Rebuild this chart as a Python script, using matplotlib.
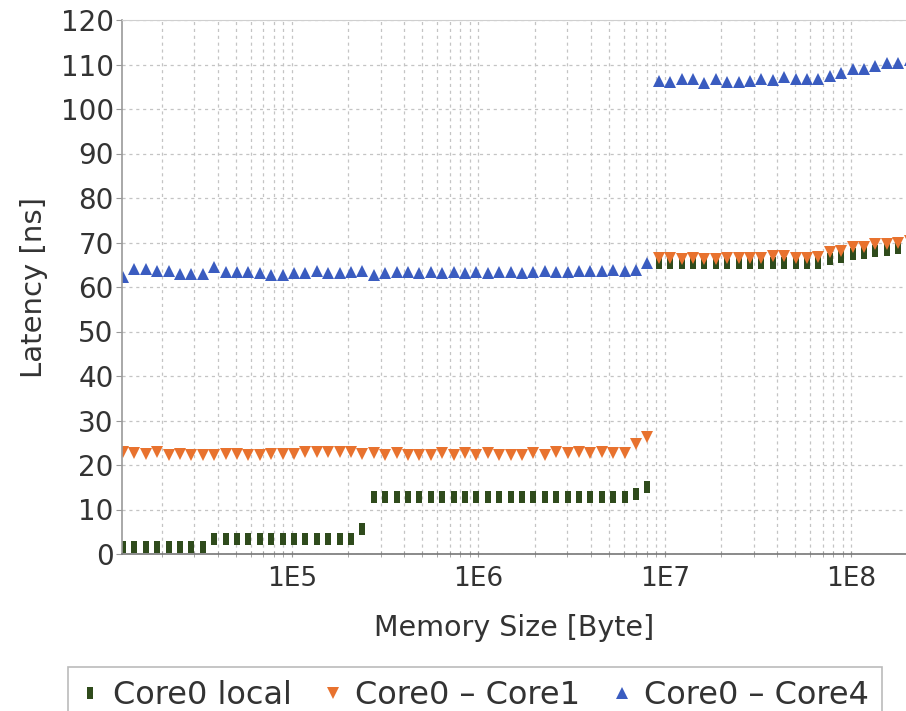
# coding=utf-8

import matplotlib.pyplot as plt
from matplotlib.ticker import LogLocator, FuncFormatter, MultipleLocator, NullFormatter
import numpy as np

plt.rcParams['font.family'] = ['DejaVu Sans']
plt.rcParams['axes.unicode_minus'] = False

# memory block size (byte)
size = [12413, 14288, 16449, 18933, 21796, 25089, 28883, 33246, 38268, 44055,
        50716, 58383, 67206, 77363, 89056, 102518, 118003, 135831, 156351, 180011,
        207204, 238506, 274594, 316082, 363827, 418869, 482169, 555009, 638849, 735517,
        846644, 974548, 1122018, 1291500, 1486600, 1711500, 1970000, 2267600, 2610000, 3005000,
        3459000, 3981000, 4583000, 5276000, 6072000, 6991000, 8048000, 9267000, 10668000, 12282000,
        14137000, 16273000, 18735000, 21564000, 24821000, 28576000, 32896000, 37865000, 43592000, 50177000,
        57757000, 66484000, 76543000, 88105000, 101414000, 116762000, 134399000, 154700000, 178111000, 205017000]

# latency (ns)
core0_local = [1.5, 1.5, 1.5, 1.5, 1.5, 1.5, 1.5, 1.5,
               3.4, 3.4, 3.4, 3.4, 3.4, 3.4, 3.4, 3.4, 3.4, 3.4, 3.4, 3.4, 3.4,
               5.7,
               12.7, 12.7, 12.7, 12.7, 12.7, 12.7, 12.7, 12.7, 12.7, 12.7, 12.7, 12.7,
               12.7, 12.7, 12.7, 12.7, 12.7, 12.7, 12.7, 12.7, 12.7, 12.7, 12.7,
               13.5, 15.0,
               65.3, 65.3, 65.3, 65.3, 65.3, 65.3, 65.3, 65.3, 65.3, 65.3, 65.3, 65.3, 65.3, 65.3, 65.3,
               66.2, 66.8, 67.5, 67.6, 68.2, 68.4, 68.8, 69.0]
core0_core1 = [23.0, 22.7, 22.5, 23.0, 22.2, 22.4, 22.3, 22.3, 22.2, 22.5,
               22.5, 22.3, 22.3, 22.5, 22.5, 22.5, 23.0, 23.0, 23.0, 23.0,
               23.0, 22.5, 22.6, 22.2, 22.6, 22.2, 22.3, 22.3, 22.6, 22.3,
               22.6, 22.3, 22.6, 22.3, 22.2, 22.3, 22.6, 22.2, 23.0, 22.7,
               23.0, 22.7, 23.0, 22.7, 22.7, 24.7, 26.2,
               66.6, 66.6, 66.4, 66.6, 66.3, 66.4, 66.6, 66.6, 66.6, 66.6,
               67.0, 67.0, 66.6, 66.6, 66.8, 67.8, 68.2, 69.0, 69.0, 69.6,
               69.6, 70.0, 70.3]
core0_core4 = [62.3, 64.0, 64.0, 63.6, 63.6, 62.9, 62.9, 62.9, 64.4, 63.3,
               63.3, 63.3, 63.1, 62.6, 62.6, 63.1, 63.1, 63.6, 63.1, 63.1,
               63.3, 63.6, 62.7, 63.1, 63.3, 63.3, 63.1, 63.3, 63.1, 63.3,
               63.1, 63.3, 63.1, 63.3, 63.3, 63.1, 63.3, 63.6, 63.3, 63.3,
               63.6, 63.6, 63.6, 63.8, 63.6, 63.8, 65.5,
               106.3, 106.0, 106.7, 106.7, 105.8, 106.7, 106.0, 106.0, 106.3, 106.7,
               106.5, 107.1, 106.7, 106.7, 106.7, 107.5, 108.0, 109.0, 109.0, 109.7,
               110.3, 110.4, 111.0]

# thin vertical bar used as marker for the local series
bar = [(-0.22, -0.5), (0.22, -0.5), (0.22, 0.5), (-0.22, 0.5), (-0.22, -0.5)]

fig = plt.figure(figsize=(9.06, 7.11), dpi=100)
ax = fig.add_axes([122 / 906, 157 / 711, 784 / 906, 534 / 711])

ax.plot(size, core0_local, linestyle='none', marker=bar, markersize=9,
        color='#2f4b1c', markeredgewidth=0, label='Core0 local')
ax.plot(size, core0_core1, linestyle='none', marker='v', markersize=8.5,
        color='#e8722e', markeredgewidth=0, label='Core0 \u2013 Core1')
ax.plot(size, core0_core4, linestyle='none', marker='^', markersize=8.5,
        color='#3a5cc0', markeredgewidth=0, label='Core0 \u2013 Core4')

ax.set_xscale('log')
ax.set_xlim(12262, 1.96e8)
ax.set_ylim(0, 120)

ax.xaxis.set_major_locator(LogLocator(base=10))
ax.xaxis.set_minor_locator(LogLocator(base=10, subs=np.arange(2, 10)))
ax.xaxis.set_major_formatter(FuncFormatter(lambda v, p: '1E%d' % round(np.log10(v))))
ax.xaxis.set_minor_formatter(NullFormatter())
ax.yaxis.set_major_locator(MultipleLocator(10))

# dashed grid on every tick
grid_style = dict(color='#c4c4c4', linestyle=(0, (2.5, 3)), linewidth=0.9)
ax.grid(which='major', axis='both', **grid_style)
ax.grid(which='minor', axis='x', **grid_style)
ax.set_axisbelow(True)

ax.spines['right'].set_visible(False)
ax.spines['top'].set_color('#cfcfcf')
ax.spines['left'].set_color('#999999')
ax.spines['bottom'].set_color('#777777')
ax.spines['left'].set_linewidth(1.2)
ax.spines['bottom'].set_linewidth(1.2)

ax.tick_params(axis='y', which='major', length=4, color='#999999', labelsize=20,
               labelcolor='#333333', pad=2)
ax.tick_params(axis='x', which='both', direction='inout', length=5, color='#999999',
               labelsize=19, labelcolor='#333333', pad=6)

ax.set_xlabel('Memory Size [Byte]', fontsize=20.5, color='#333333', labelpad=16)
ax.set_ylabel('Latency [ns]', fontsize=21, color='#333333', labelpad=9)

leg = fig.legend(loc='upper center', bbox_to_anchor=(475 / 906, 1 - 667 / 711), ncol=3,
                 fontsize=23, frameon=True, fancybox=False, edgecolor='#aaaaaa',
                 handlelength=0.6, handletextpad=0.4, columnspacing=1.0, borderpad=0.4,
                 borderaxespad=0)
leg.get_frame().set_linewidth(1.2)
for t in leg.get_texts():
    t.set_color('#333333')

plt.savefig('out.png', dpi=100)
